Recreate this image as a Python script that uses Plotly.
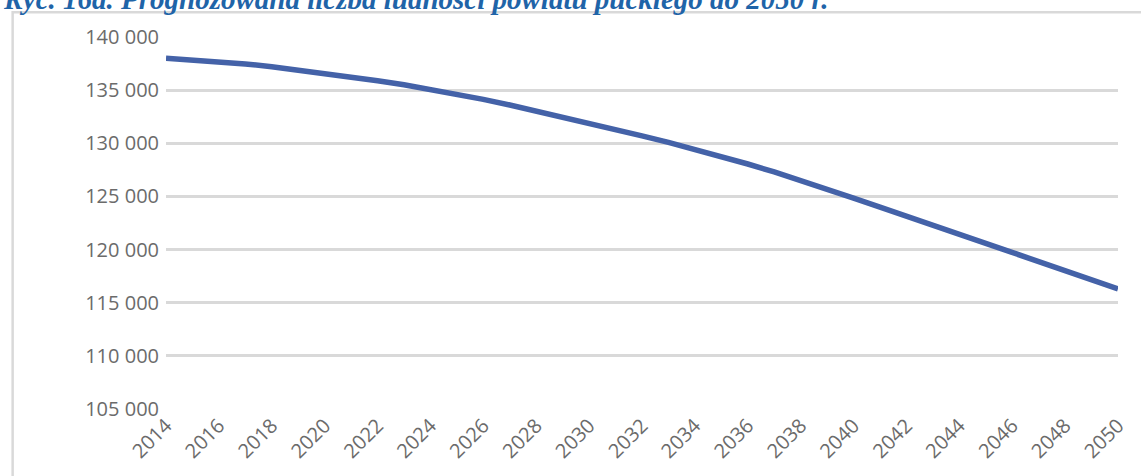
import plotly.graph_objects as go

# Projected population of Puck county, 2014-2050
years = list(range(2014, 2051))
population = [
    138000, 137860, 137690, 137470, 137210, 136910, 136580, 136240, 135880, 135500,
    135080, 134630, 134130, 133600, 133040, 132470, 131890, 131300, 130700, 130080,
    129430, 128750, 128050, 127300, 126510, 125690, 124850, 124000, 123150, 122300,
    121450, 120600, 119750, 118890, 118030, 117170, 116310,
]
x_ticks = list(range(2014, 2051, 2))
y_ticks = list(range(105000, 140001, 5000))
y_tick_text = [f"{v:,}".replace(",", " ") for v in y_ticks]
title_text = "Ryc. 16a. Prognozowana liczba ludności powiatu puckiego do 2050 r."

W, H = 1141, 476
L, R, T, B = 166, 19, 37, 65
pw, ph = W - L - R, H - T - B


def px_x(p):
    return (p - L) / pw


def px_y(p):
    return (H - B - p) / ph


fig = go.Figure()
fig.add_trace(go.Scatter(
    x=years, y=population, mode="lines",
    line=dict(color="#4462a8", width=5.5),
    hoverinfo="skip", showlegend=False,
))

axis_font = dict(family="'Open Sans', Lato, sans-serif", size=20, color="#6b6b6b")

fig.update_layout(
    width=W, height=H,
    margin=dict(l=L, r=R, t=T, b=B),
    paper_bgcolor="white", plot_bgcolor="white",
    xaxis=dict(
        range=[2014, 2050], tickvals=x_ticks, ticktext=[str(v) for v in x_ticks],
        tickangle=-45, tickfont=axis_font, showgrid=False, zeroline=False,
        showline=False, ticks="",
    ),
    yaxis=dict(
        range=[105000, 140000], tickvals=y_ticks, ticktext=y_tick_text,
        tickfont=axis_font, showgrid=True, gridcolor="#d9d9d9", gridwidth=2.5,
        zeroline=False, showline=False, ticks="", ticklabelstandoff=6,
    ),
    shapes=[dict(
        type="rect", xref="paper", yref="paper",
        x0=px_x(12), x1=px_x(W + 10), y0=px_y(H + 10), y1=px_y(12),
        line=dict(color="#d9d9d9", width=2.5), fillcolor="rgba(0,0,0,0)",
        layer="below",
    )],
    annotations=[dict(
        text=f"<b><i>{title_text}</i></b>",
        xref="paper", yref="paper", x=px_x(0), y=px_y(17),
        xanchor="left", yanchor="bottom", showarrow=False,
        font=dict(family="'Liberation Serif', 'Times New Roman', serif", size=29, color="#1f64a8"),
    )],
)

fig.write_html("out.html")
